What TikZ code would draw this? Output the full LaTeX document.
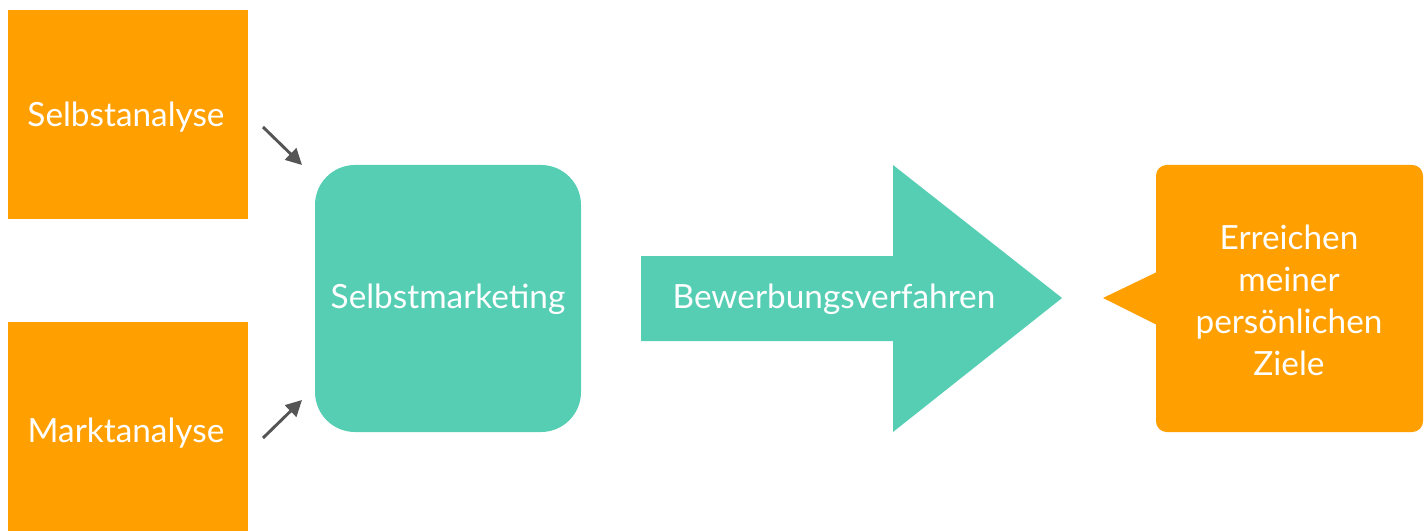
\documentclass[tikz,border=0pt]{standalone}
\usepackage{fontspec}
\setmainfont{Lato}
\usetikzlibrary{arrows.meta}
\definecolor{orng}{RGB}{255,160,0}
\definecolor{teal}{RGB}{86,206,180}
\definecolor{arr}{RGB}{85,85,85}
\begin{document}
\begin{tikzpicture}[x=0.75pt,y=-0.75pt,
  lbl/.style={text=white,font=\fontsize{25}{31.5}\selectfont,align=center},
  smallarrow/.style={draw=arr,line width=2.2pt,-{Triangle[length=12pt,width=12pt]}}]
\useasboundingbox (0,0) rectangle (1428,531);
% left boxes
\fill[orng] (8,10) rectangle (248,219);
\node[lbl] (sa) at (126,117) {Selbstanalyse};
\fill[orng] (8,322) rectangle (248,531);
\node[lbl] (ma) at (126,433) {Marktanalyse};
% center rounded box
\fill[teal,rounded corners=30pt] (315,165) rectangle (581,432);
\node[lbl] (sm) at (448,299) {Selbstmarketing};
% big arrow
\fill[teal] (641,256) -- (893,256) -- (893,165) -- (1062,298) -- (893,432) -- (893,341) -- (641,341) -- cycle;
\node[lbl] (bv) at (834,299) {Bewerbungsverfahren};
% callout
\fill[orng,rounded corners=8pt] (1156,165) rectangle (1423,432);
\fill[orng] (1157,272) -- (1103,298) -- (1157,325) -- cycle;
\node[lbl,text width=200pt] (ez) at (1289,300) {Erreichen\\meiner\\persönlichen\\Ziele};
% small arrows
\coordinate (a1s) at (263,127);
\coordinate (a1e) at (302,165);
\coordinate (a2s) at (263,438);
\coordinate (a2e) at (302,400);
\draw[smallarrow] (a1s) -- (a1e);
\draw[smallarrow] (a2s) -- (a2e);
\end{tikzpicture}
\end{document}
